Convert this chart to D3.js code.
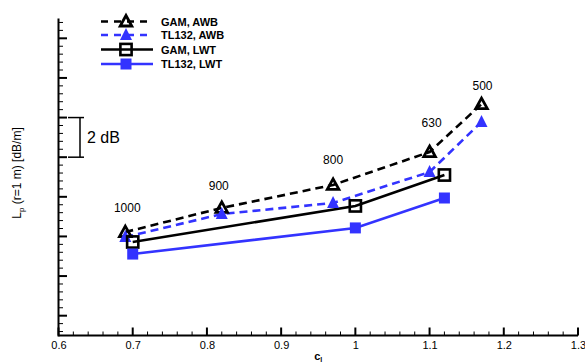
<!DOCTYPE html>
<html>
<head>
<meta charset="utf-8">
<script src="https://cdn.jsdelivr.net/npm/d3@7/dist/d3.min.js"></script>
<style>
  html, body { margin: 0; padding: 0; background: #fff; }
  svg { display: block; }
  text { font-family: "Liberation Sans", Arial, sans-serif; fill: #000; }
</style>
</head>
<body>
<svg id="chart" width="585" height="363"></svg>
<script>
// Lift coefficient at each measured point
const clAWB = [0.69, 0.82, 0.97, 1.10, 1.17];
const clLWT = [0.70, 1.00, 1.12];

// Sound pressure level per unit span, dB (relative, no absolute labels)
const gamAWB   = [5.22, 6.44, 7.60, 9.26, 11.68];
const tl132AWB = [4.97, 6.13, 6.69, 8.25, 10.78];
const gamLWT   = [4.72, 6.54, 8.10];
const tl132LWT = [4.11, 5.43, 6.94];

// Frequency (Hz) written above each AWB point
const freqLabels = ["1000", "900", "800", "630", "500"];

// Axis ticks
const xTickValues = [0.6, 0.7, 0.8, 0.9, 1.0, 1.1, 1.2, 1.3];
const xTickLabels = ["0.6", "0.7", "0.8", "0.9", "1", "1.1", "1.2", "1.3"];
const yMajorValues = [1, 3, 5, 7, 9, 11, 13, 15];

const legendNames = ["GAM, AWB", "TL132, AWB", "GAM, LWT", "TL132, LWT"];

const BLUE = "#3333ff";
const svg = d3.select("#chart");

const x = d3.scaleLinear().domain([0.6, 1.3]).range([58.5, 578]);
const y = d3.scaleLinear().domain([0, 16]).range([335.5, 18.5]);

const series = [
  { name: legendNames[0], xs: clAWB, ys: gamAWB,   color: "#000", dash: "8,5", marker: "triOpen" },
  { name: legendNames[1], xs: clAWB, ys: tl132AWB, color: BLUE,   dash: "8,5", marker: "triFill" },
  { name: legendNames[2], xs: clLWT, ys: gamLWT,   color: "#000", dash: null,  marker: "sqOpen" },
  { name: legendNames[3], xs: clLWT, ys: tl132LWT, color: BLUE,   dash: null,  marker: "sqFill" }
];

// ---- axes ----
const xMinor = d3.range(0.6, 1.3001, 0.02).map(v => +v.toFixed(2))
  .filter(v => !xTickValues.some(t => Math.abs(t - v) < 1e-6));
const yMinor = d3.range(0.2, 16.0, 0.4).map(v => +v.toFixed(2))
  .filter(v => !yMajorValues.some(t => Math.abs(t - v) < 1e-6));

const gx = svg.append("g").attr("transform", `translate(0,${y(0)})`);
gx.call(d3.axisBottom(x).tickValues(xTickValues).tickSize(0).tickFormat((d, i) => xTickLabels[i]))
  .call(g => g.select(".domain").remove())
  .call(g => g.selectAll("text").attr("dy", 0).attr("y", 13.5)
    .style("font-size", "11px").style("font-family", "Liberation Sans, Arial, sans-serif"));
gx.selectAll("line.maj").data(xTickValues).join("line")
  .attr("x1", d => x(d)).attr("x2", d => x(d)).attr("y1", 0).attr("y2", -8)
  .attr("stroke", "#000").attr("stroke-width", 2);
gx.selectAll("line.min").data(xMinor).join("line")
  .attr("x1", d => x(d)).attr("x2", d => x(d)).attr("y1", 0).attr("y2", -4)
  .attr("stroke", "#000").attr("stroke-width", 1);

const gy = svg.append("g").attr("transform", `translate(${x(0.6)},0)`);
gy.selectAll("line.maj").data(yMajorValues).join("line")
  .attr("x1", 0).attr("x2", 8.5).attr("y1", d => y(d)).attr("y2", d => y(d))
  .attr("stroke", "#000").attr("stroke-width", 2);
gy.selectAll("line.min").data(yMinor).join("line")
  .attr("x1", 0).attr("x2", 4.5).attr("y1", d => y(d)).attr("y2", d => y(d))
  .attr("stroke", "#000").attr("stroke-width", 1);

// axis lines
svg.append("line").attr("x1", x(0.6)).attr("x2", x(1.3)).attr("y1", y(0)).attr("y2", y(0))
  .attr("stroke", "#000").attr("stroke-width", 2);
svg.append("line").attr("x1", x(0.6)).attr("x2", x(0.6)).attr("y1", y(0) + 1).attr("y2", y(16))
  .attr("stroke", "#000").attr("stroke-width", 2);

// axis titles
const xt = svg.append("text").attr("x", (x(0.6) + x(1.3)) / 2).attr("y", 360)
  .attr("text-anchor", "middle").style("font-size", "11px").style("font-weight", "bold");
xt.append("tspan").text("c");
xt.append("tspan").attr("dy", 2).style("font-size", "7px").text("l");

const yt = svg.append("text").attr("transform", "translate(21,173) rotate(-90)")
  .attr("text-anchor", "middle").style("font-size", "12px");
yt.append("tspan").text("L");
yt.append("tspan").attr("dy", 3).style("font-size", "8px").text("p");
yt.append("tspan").attr("dy", -3).text(" (r=1 m) [dB/m]");

// 2 dB scale bracket
const bTop = y(15 - 4), bBot = y(15 - 6);
const br = svg.append("g").attr("stroke", "#000").attr("stroke-width", 1.5);
br.append("line").attr("x1", 80).attr("x2", 80).attr("y1", bTop).attr("y2", bBot);
br.append("line").attr("x1", 68).attr("x2", 84).attr("y1", bTop).attr("y2", bTop);
br.append("line").attr("x1", 68).attr("x2", 84).attr("y1", bBot).attr("y2", bBot);
svg.append("text").attr("x", 87).attr("y", (bTop + bBot) / 2 + 6)
  .style("font-size", "16px").text("2 dB");

// ---- markers ----
function drawMarker(g, kind, cx, cy, color) {
  if (kind === "triOpen") {
    g.append("path").attr("d", `M${cx},${cy - 6}L${cx + 5.8},${cy + 4.5}L${cx - 5.8},${cy + 4.5}Z`)
      .attr("fill", "none").attr("stroke", color).attr("stroke-width", 2.8).attr("stroke-linejoin", "miter");
  } else if (kind === "triFill") {
    g.append("path").attr("d", `M${cx},${cy - 7}L${cx + 6},${cy + 5}L${cx - 6},${cy + 5}Z`)
      .attr("fill", color);
  } else if (kind === "sqOpen") {
    g.append("rect").attr("x", cx - 5.6).attr("y", cy - 5.6).attr("width", 11.2).attr("height", 11.2)
      .attr("fill", "none").attr("stroke", color).attr("stroke-width", 2.6);
  } else {
    g.append("rect").attr("x", cx - 5.5).attr("y", cy - 5.5).attr("width", 11).attr("height", 11)
      .attr("fill", color);
  }
}

const line = d3.line().x(d => x(d[0])).y(d => y(d[1]));
const plot = svg.append("g");
series.forEach(s => {
  const pts = s.xs.map((c, i) => [c, s.ys[i]]);
  plot.append("path").datum(pts).attr("d", line)
    .attr("fill", "none").attr("stroke", s.color).attr("stroke-width", 2.6)
    .attr("stroke-dasharray", s.dash);
});
series.forEach(s => {
  s.xs.forEach((c, i) => drawMarker(plot, s.marker, x(c), y(s.ys[i]), s.color));
});

// frequency annotations
const nudge = [[2, 0], [-3, 2], [0, -1], [2, -5], [1, 6]];
svg.selectAll("text.freq").data(freqLabels).join("text")
  .attr("x", (d, i) => x(clAWB[i]) + nudge[i][0])
  .attr("y", (d, i) => y(gamAWB[i]) - 20 + nudge[i][1])
  .attr("text-anchor", "middle").style("font-size", "12px").text(d => d);

// ---- legend ----
const legRows = [21.5, 35, 49.5, 64];
const leg = svg.append("g");
series.forEach((s, i) => {
  const ly = legRows[i];
  leg.append("line").attr("x1", 101).attr("x2", 153).attr("y1", ly).attr("y2", ly)
    .attr("stroke", s.color).attr("stroke-width", 2.6).attr("stroke-dasharray", s.dash ? "7,6" : null);
  drawMarker(leg, s.marker, 126, ly, s.color);
  leg.append("text").attr("x", 161).attr("y", ly + 4)
    .style("font-size", "11px").style("font-weight", "bold").text(s.name);
});
</script>
</body>
</html>
